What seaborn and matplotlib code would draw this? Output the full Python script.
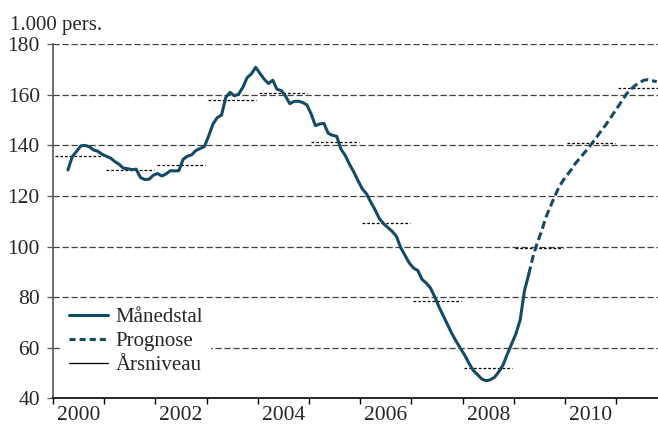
import numpy as np
import pandas as pd
import matplotlib
matplotlib.use("Agg")
import matplotlib.pyplot as plt
import seaborn as sns
from matplotlib.lines import Line2D

# Månedstal, april 2000 - april 2009 (1.000 pers.)
maanedstal = [
    130.3, 135.5, 137.6, 139.8, 140.0, 139.5, 138.2, 137.7, 136.5, 135.7,
    135.0, 133.6, 132.5, 131.0, 130.8, 130.4, 130.6, 127.3, 126.5, 126.6,
    128.2, 128.9, 127.9, 128.7, 130.0, 129.9, 130.0, 134.5, 135.7, 136.3,
    138.0, 138.8, 139.6, 143.8, 148.5, 151.0, 152.0, 159.0, 161.0, 159.6,
    160.3, 163.0, 166.8, 168.3, 170.9, 168.5, 166.2, 164.5, 165.8, 162.2,
    161.7, 159.5, 156.5, 157.4, 157.5, 157.0, 156.0, 152.5, 147.8, 148.5,
    148.7, 144.8, 144.0, 143.6, 138.5, 136.0, 132.5, 129.5, 126.0, 122.8,
    120.8, 117.5, 114.5, 111.0, 109.0, 107.5, 106.0, 104.0, 99.5, 96.5,
    93.5, 91.5, 90.5, 87.0, 85.5, 83.5, 80.0, 76.0, 72.5, 69.0,
    65.5, 62.5, 59.7, 57.0, 53.8, 51.0, 49.3, 47.6, 46.9, 47.3,
    48.3, 50.5, 53.2, 57.5, 61.5, 65.5, 71.0, 82.5, 89.0,
]
maaned_start = "2000-04"

# Prognose, april 2009 - oktober 2011
prognose = [
    89.0, 96.0, 101.5, 106.0, 111.5, 115.5, 119.5, 123.2, 126.0, 128.3,
    130.5, 133.0, 135.0, 137.0, 139.0, 141.2, 143.5, 145.8, 148.0, 150.5,
    153.0, 155.5, 158.0, 160.5, 162.3, 163.8, 164.8, 165.8, 166.0, 165.6,
    165.2,
]
prognose_start = "2009-04"

aar = list(range(2000, 2012))
aarsniveau = [135.8, 130.3, 132.2, 158.1, 160.6, 141.2, 109.2, 78.6, 51.8, 99.3, 140.8, 162.6]

y_ticks = [40, 60, 80, 100, 120, 140, 160, 180]
x_labels = ["2000", "2002", "2004", "2006", "2008", "2010"]


def frac_year(start, n):
    d = pd.date_range(start, periods=n, freq="MS")
    return d.year + (d.month - 0.5) / 12


df_m = pd.DataFrame({"t": frac_year(maaned_start, len(maanedstal)), "v": maanedstal})
df_p = pd.DataFrame({"t": frac_year(prognose_start, len(prognose)), "v": prognose})

sns.set_theme(style="white")
plt.rcParams["font.family"] = ["Liberation Serif", "DejaVu Serif"]

line_col = "#144b64"
grid_col = "#404040"
fs = 15.5

fig = plt.figure(figsize=(6.58, 4.26), dpi=100)
ax = fig.add_axes([53 / 658, 1 - 398.2 / 426, 605 / 658, 353.9 / 426])

for yv in y_ticks[1:]:
    ax.axhline(yv, color=grid_col, lw=0.9, ls=(0, (5, 2.2)), zorder=1)

ax.hlines(aarsniveau, [a + 0.03 for a in aar], [a + 0.97 for a in aar],
          color="black", lw=0.9, ls=(0, (2.2, 1.6)), zorder=2)

sns.lineplot(data=df_m, x="t", y="v", ax=ax, color=line_col, lw=2.2, zorder=3)
sns.lineplot(data=df_p, x="t", y="v", ax=ax, color=line_col, lw=2.2, zorder=3,
             linestyle=(0, (2.6, 1.3)))

ax.set_xlim(2000, 2000 + 605 / 51.2)
ax.set_ylim(40, 180)
ax.set_xlabel("")
ax.set_ylabel("")

ax.set_yticks(y_ticks)
ax.set_yticklabels([str(v) for v in y_ticks], fontsize=fs)
ax.set_xticks(aar)
ax.set_xticklabels([])
ax.set_xticks([int(s) + 0.5 for s in x_labels], minor=True)
ax.set_xticklabels(x_labels, minor=True, fontsize=fs)
ax.tick_params(axis="x", which="major", direction="out", length=4.5, width=1, color="black", bottom=True)
ax.tick_params(axis="x", which="minor", length=0, pad=5.5, bottom=True)
ax.tick_params(axis="y", direction="out", length=4.5, width=0.9, color="#555555", pad=5, left=True)

for s in ["top", "right"]:
    ax.spines[s].set_visible(False)
ax.spines["left"].set_color("#555555")
ax.spines["left"].set_linewidth(1.2)
ax.spines["bottom"].set_color("black")
ax.spines["bottom"].set_linewidth(1.2)

handles = [
    Line2D([], [], color=line_col, lw=2.2),
    Line2D([], [], color=line_col, lw=2.2, ls=(0, (2.0, 1.3))),
    Line2D([], [], color="black", lw=0.9),
]
leg = ax.legend(handles, ["Månedstal", "Prognose", "Årsniveau"], loc="upper left",
                bbox_to_anchor=(0.012, 0.28), borderaxespad=0, borderpad=0.4,
                frameon=True, fancybox=False, framealpha=1, edgecolor="none",
                facecolor="white", fontsize=15, handlelength=1.9,
                handletextpad=0.35, labelspacing=0.22)
leg.set_zorder(5)

fig.text(10 / 658, 1 - 30 / 426, "1.000 pers.", fontsize=15, ha="left", va="baseline")

fig.savefig("out.png", dpi=100)
